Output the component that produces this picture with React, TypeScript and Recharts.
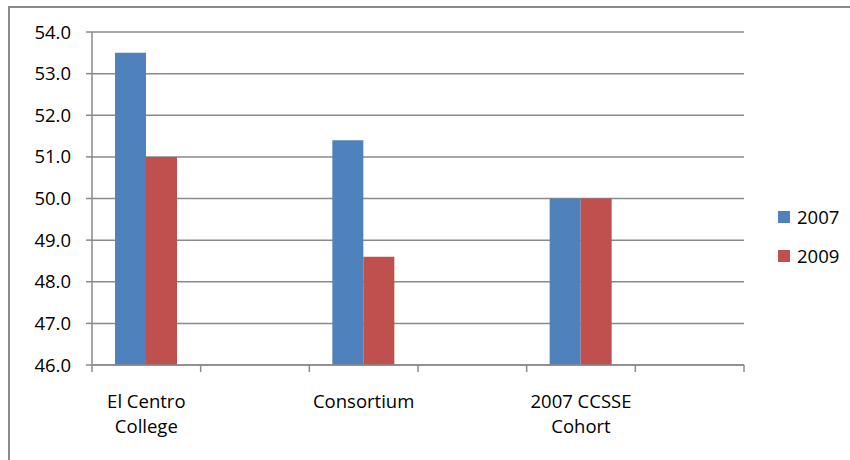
import { BarChart, Bar, XAxis, YAxis, CartesianGrid, Legend } from "recharts";

const categories = ["El Centro College", "", "Consortium", "", "2007 CCSSE Cohort", ""];
const labelLines = [["El Centro", "College"], [], ["Consortium"], [], ["2007 CCSSE", "Cohort"], []];
const values2007 = [53.5, null, 51.4, null, 50.0, null];
const values2009 = [51.0, null, 48.6, null, 50.0, null];
const yTicks = [46, 47, 48, 49, 50, 51, 52, 53, 54];

const FONT = "'Open Sans', sans-serif";
const FS = 18.5;
const GRID = "#8a8a8a";
const BLUE = "#4F81BD";
const RED = "#C0504D";

const W = 850;
const H = 460;
const M = { top: 32, right: 106, bottom: 35, left: 12 };
const Y_W = 80;
const BAND = (W - M.left - Y_W - M.right) / categories.length;

const data = categories.map((name, i) => ({
  name,
  y2007: values2007[i],
  y2009: values2009[i],
}));

function XTick(props: any) {
  const { x, y, payload, index } = props;
  const i = payload?.index ?? index;
  const band = props.width && props.visibleTicksCount ? props.width / props.visibleTicksCount : BAND;
  const lines = labelLines[i] || [];
  const left = x - band / 2;
  const right = x + band / 2;
  return (
    <g>
      <line x1={left} x2={left} y1={y} y2={y + 7} stroke={GRID} strokeWidth={1.5} />
      {i === categories.length - 1 && (
        <line x1={right} x2={right} y1={y} y2={y + 7} stroke={GRID} strokeWidth={1.5} />
      )}
      {lines.map((t, k) => (
        <text key={k} x={x} y={y + 43 + k * 25} textAnchor="middle" fill="#000" fontSize={FS} fontFamily={FONT}>
          {t}
        </text>
      ))}
    </g>
  );
}

function LegendBox(props: any) {
  return (
    <div style={{ fontFamily: FONT, fontSize: FS, color: "#000" }}>
      {(props.payload || []).map((e: any) => (
        <div key={e.value} style={{ display: "flex", alignItems: "center", height: 39 }}>
          <span style={{ display: "inline-block", width: 12, height: 12, background: e.color, marginRight: 7 }} />
          <span>{e.value}</span>
        </div>
      ))}
    </div>
  );
}

export default function App() {
  return (
    <div style={{ position: "absolute", left: 0, top: 0, width: W, height: H, overflow: "hidden", background: "#fff" }}>
      <div
        style={{
          position: "absolute",
          left: 8,
          top: 6,
          width: 900,
          height: 500,
          borderLeft: `2px solid ${GRID}`,
          borderTop: `2px solid ${GRID}`,
        }}
      />
      <div style={{ position: "absolute", left: 0, top: 0 }}>
        <BarChart width={W} height={H} data={data} margin={M} barGap={0} barSize={31}>
          <CartesianGrid vertical={false} stroke={GRID} strokeWidth={1.5} />
          <XAxis
            dataKey="name"
            interval={0}
            height={60}
            tickLine={false}
            tickSize={0}
            tickMargin={0}
            axisLine={{ stroke: GRID, strokeWidth: 1.5 }}
            tick={<XTick />}
          />
          <YAxis
            width={Y_W}
            domain={[46, 54]}
            ticks={yTicks}
            interval={0}
            allowDataOverflow
            tickFormatter={(v: number) => v.toFixed(1)}
            axisLine={{ stroke: GRID, strokeWidth: 1.5 }}
            tickLine={{ stroke: GRID, strokeWidth: 1.5 }}
            tickSize={6}
            tickMargin={15}
            tick={{ fill: "#000", fontSize: FS, fontFamily: FONT }}
          />
          <Legend
            layout="vertical"
            align="center"
            verticalAlign="middle"
            content={<LegendBox />}
            wrapperStyle={{ left: 778, top: 197, width: 70 }}
          />
          <Bar dataKey="y2007" name="2007" fill={BLUE} isAnimationActive={false} />
          <Bar dataKey="y2009" name="2009" fill={RED} isAnimationActive={false} />
        </BarChart>
      </div>
    </div>
  );
}
